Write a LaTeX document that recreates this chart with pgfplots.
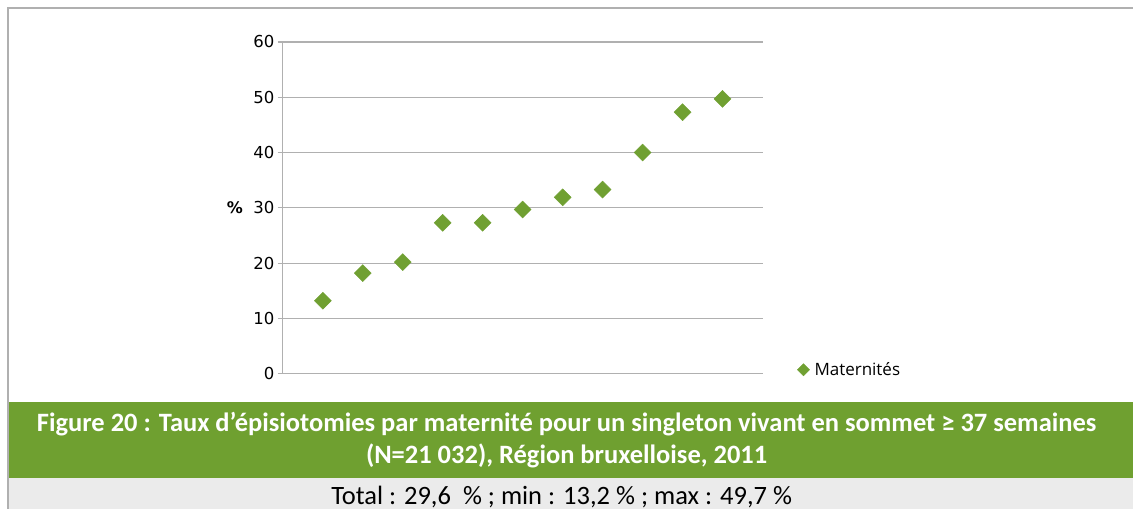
\documentclass[border=0pt]{standalone}
\usepackage{fontspec}
\setmainfont{DejaVu Sans}
\newfontfamily\capfont{Carlito}
\newfontfamily\legfont{Open Sans}
\usepackage{pgfplots}
\pgfplotsset{compat=1.18}
\definecolor{cgreen}{HTML}{70A032}
\definecolor{bandgreen}{HTML}{6FA030}
\definecolor{gridgrey}{HTML}{B0B0B0}
\definecolor{bandgrey}{HTML}{EBEBEB}
\begin{document}
\begin{tikzpicture}[x=1pt,y=1pt]
\fill[white] (0,0) rectangle (1134,509);
\fill[bandgreen] (8,31) rectangle (1134,107);
\fill[bandgrey] (8,0) rectangle (1134,31);
\draw[gridgrey, line width=1.5pt] (8,0) -- (8,501) -- (1134,501);
\begin{axis}[
  at={(283pt,135pt)}, anchor=south west,
  scale only axis, width=480pt, height=332pt,
  xmin=0, xmax=12, ymin=0, ymax=60,
  ytick={0,10,...,60}, xtick=\empty,
  axis y line=left, axis x line=bottom,
  axis line style={gridgrey, line width=1.2pt, -},
  ymajorgrids, grid style={gridgrey, line width=1.2pt},
  major tick length=5pt, tick align=outside,
  tick style={gridgrey, line width=1.2pt},
  yticklabel style={font=\fontsize{16.5}{16.5}\selectfont, text=black},
  /pgf/number format/assume math mode=true,
  legend style={at={(1.066,0.012)}, anchor=west, draw=none, fill=none,
    font=\legfont\fontsize{17}{17}\selectfont,
    nodes={inner xsep=5pt}},
  legend image code/.code={\draw[mark=square*, mark size=4.3pt, cgreen, mark options={fill=cgreen, rotate=45}] plot coordinates {(0.25cm,0cm)};},
  clip=false,
]
\addplot[only marks, mark=square*, mark size=6pt, color=cgreen, mark options={fill=cgreen, draw=cgreen, rotate=45}]
coordinates {
(1,13.2) (2,18.2) (3,20.2) (4,27.3) (5,27.3) (6,29.7) (7,31.9) (8,33.3) (9,40.0) (10,47.3) (11,49.7)
};
\addlegendentry{Maternités}
\end{axis}
\node[font=\bfseries\fontsize{16}{16}\selectfont] at (235,301) {\%};
\node[font=\capfont\bfseries\fontsize{26.5}{32}\selectfont, text=white, align=center] at (567,69)
  {Figure 20 : Taux d’épisiotomies par maternité pour un singleton vivant en sommet ≥ 37 semaines\\(N=21 032), Région bruxelloise, 2011};
\node[font=\capfont\fontsize{26.5}{26.5}\selectfont, text=black] at (562,12)
  {Total : 29,6 ~\% ; min : 13,2 \% ; max : 49,7 \%};
\end{tikzpicture}
\end{document}
